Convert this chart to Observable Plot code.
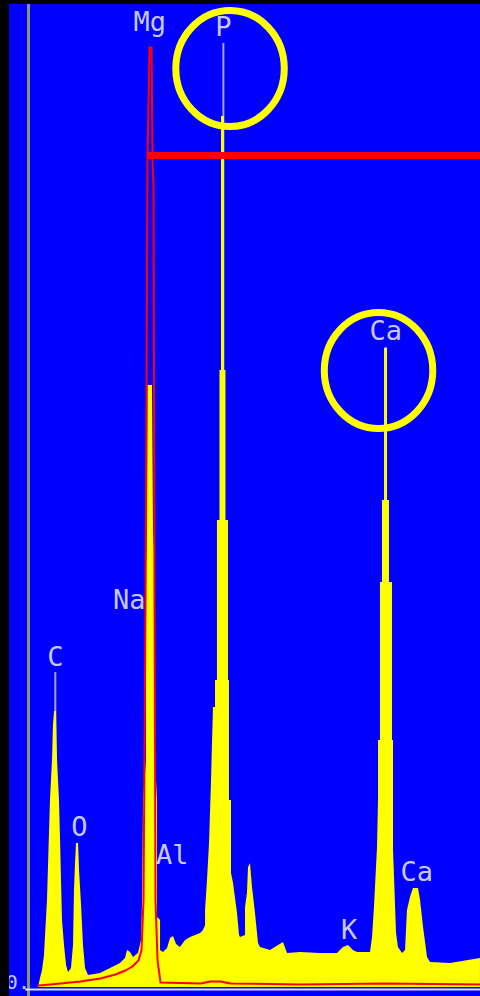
<!DOCTYPE html>
<html>
<head>
<meta charset="utf-8">
<script src="https://cdn.jsdelivr.net/npm/d3@7"></script>
<script src="https://cdn.jsdelivr.net/npm/@observablehq/plot@0.6"></script>
<style>
  html, body { margin: 0; padding: 0; background: #000; }
  #wrap { position: relative; width: 480px; height: 996px; overflow: hidden; }
  #wrap svg { display: block; }
  .mask { position: absolute; background: #000; }
</style>
</head>
<body>
<div id="wrap">
  <div id="chart"></div>
  <div class="mask" style="left:0;top:0;width:9px;height:996px"></div>
  <div class="mask" style="left:0;top:0;width:480px;height:4px"></div>
</div>
<script>
// ---- Spectrum 1 (yellow, filled): energy (keV) and counts (a.u.)
const yellowEnergy = [0.103,0.124,0.145,0.165,0.196,0.227,0.248,0.258,0.269,0.289,0.300,0.320,0.331,0.351,0.372,0.393,0.413,
  0.444,0.465,0.475,0.486,0.496,0.517,0.527,0.548,0.568,0.589,0.620,0.744,0.847,0.950,1.002,1.023,1.054,1.085,1.136,
  1.167,1.178,1.188,1.219,1.219,1.229,1.234,1.281,1.291,1.312,1.312,1.333,1.333,1.364,1.364,1.395,1.436,1.467,1.498,1.529,
  1.570,1.622,1.674,1.725,1.777,1.808,1.829,1.829,1.849,1.870,1.890,
  1.911,1.932,1.932,1.952,1.952,1.978,1.978,1.994,1.994,2.025,2.025,2.040,2.040,2.066,2.066,2.076,2.076,2.097,2.097,
  2.118,2.159,2.180,2.190,2.242,2.242,2.262,2.273,2.293,2.314,2.345,2.376,2.397,2.500,2.634,2.676,2.810,3.017,
  3.192,3.254,3.306,3.357,3.399,3.533,3.554,3.574,
  3.605,3.616,3.616,3.636,3.636,3.657,3.657,3.678,3.678,3.709,3.709,3.729,3.729,3.760,3.760,3.771,3.771,
  3.802,3.822,3.864,3.895,3.915,3.946,3.977,4.029,4.050,4.081,4.122,4.153,4.360,4.669];
const yellowCounts = [0,9,17,32,87,187,227,262,276,276,227,187,147,67,42,22,15,
  19,42,97,125,144,144,117,82,42,19,12,14,19,24,29,37,35,30,34,
  47,84,187,227,420,457,602,602,457,420,227,187,70,67,37,35,39,49,51,43,
  40,47,50,52,54,57,62,77,107,144,204,
  280,280,307,307,467,467,617,617,871,871,617,617,467,467,307,307,187,187,114,
  104,74,52,50,52,80,94,120,124,100,74,44,40,37,45,34,35,34,
  34,40,42,37,35,35,50,80,
  139,187,247,247,405,405,487,487,639,639,487,487,405,405,247,247,137,
  54,40,34,37,77,90,99,99,87,60,30,25,24,29];

// ---- Spectrum 2 (red outline)
const redEnergy = [0.103,0.227,0.537,0.744,0.899,1.002,1.074,1.136,1.167,1.188,1.209,1.219,1.229,1.250,1.271,1.281,1.291,
  1.302,1.312,1.333,1.364,1.777,1.880,1.983,2.087,2.810,3.688,4.669];
const redCounts = [2,3,6,9,13,17,21,27,37,87,387,587,827,940,940,827,802,
  387,87,27,5,4,6,6,4,3,4,3];

// ---- Element labels (KLM markers)
const elementNames  = ["C","O","Na","Mg","Al","P","K","Ca","Ca"];
const elementEnergy = [0.277,0.525,1.041,1.253,1.486,2.013,3.313,3.690,4.012];
const labelCounts   = [322,152,379,957,124,952,49,648,107];
const markerTop     = [315,0,0,0,0,944,0,640,0];

// ---- Annotations
const circleEnergy = [2.082, 3.616];
const circleCounts = [919, 617];
const thresholdCounts = 832;
const thresholdFrom = 1.229;

const xDomain = [-0.2893, 4.6694];
const yDomain = [0, 987];

const yellow = yellowEnergy.map((e, i) => ({keV: e, counts: yellowCounts[i]}));
const red = redEnergy.map((e, i) => ({keV: e, counts: redCounts[i]}));
const labels = elementNames.map((n, i) => ({name: n, keV: elementEnergy[i], counts: labelCounts[i], top: markerTop[i]}));
const markers = labels.filter(d => d.top > 0);
const circles = circleEnergy.map((e, i) => ({keV: e, counts: circleCounts[i]}));

const ellipse = {
  draw(context, size) {
    const r = Math.sqrt(size / Math.PI), rx = r * 0.935, ry = r, k = 0.5523;
    context.moveTo(rx, 0);
    context.bezierCurveTo(rx, k * ry, k * rx, ry, 0, ry);
    context.bezierCurveTo(-k * rx, ry, -rx, k * ry, -rx, 0);
    context.bezierCurveTo(-rx, -k * ry, -k * rx, -ry, 0, -ry);
    context.bezierCurveTo(k * rx, -ry, rx, -k * ry, rx, 0);
    context.closePath();
  }
};

const font = "'DejaVu Sans Mono', monospace";

const chart = Plot.plot({
  width: 480,
  height: 996,
  marginLeft: 0, marginRight: 0, marginTop: 0, marginBottom: 9,
  x: {domain: xDomain, axis: null},
  y: {domain: yDomain, axis: null},
  style: {background: "#0000ff", overflow: "visible"},
  marks: [
    Plot.ruleX([{x: 0, y1: -9, y2: 1000}], {x: "x", y1: "y1", y2: "y2", stroke: "#8c9470", strokeWidth: 3}),
    Plot.ruleX(markers, {x: "keV", y1: 0, y2: "top", stroke: "#a4a4b4", strokeWidth: 2}),
    Plot.area(yellow, {x1: "keV", y1: 0, y2: "counts", fill: "#ffff00"}),
    Plot.line(red, {x: "keV", y: "counts", stroke: "#ff0000", strokeWidth: 2}),
    Plot.ruleY([{y: -2, x1: -0.03, x2: xDomain[1]}], {y: "y", x1: "x1", x2: "x2", stroke: "#dcdcff", strokeWidth: 2}),
    Plot.text([{keV: 0.015, counts: -1, t: "0."}], {x: "keV", y: "counts", text: "t", textAnchor: "end", lineAnchor: "bottom",
      fontSize: 20, fontFamily: font, fill: "#c8c8ff"}),
    Plot.ruleY([{y: thresholdCounts, x1: thresholdFrom, x2: xDomain[1]}], {y: "y", x1: "x1", x2: "x2", stroke: "#ff0000", strokeWidth: 7}),
    Plot.text(labels, {x: "keV", y: "counts", text: "name", lineAnchor: "bottom", fontSize: 27, fontFamily: font, fill: "#c8c8ff"}),
    Plot.dot(circles, {x: "keV", y: "counts", r: 58, symbol: ellipse, fill: "none", stroke: "#ffff00", strokeWidth: 7})
  ]
});
document.getElementById("chart").appendChild(chart);
</script>
</body>
</html>
